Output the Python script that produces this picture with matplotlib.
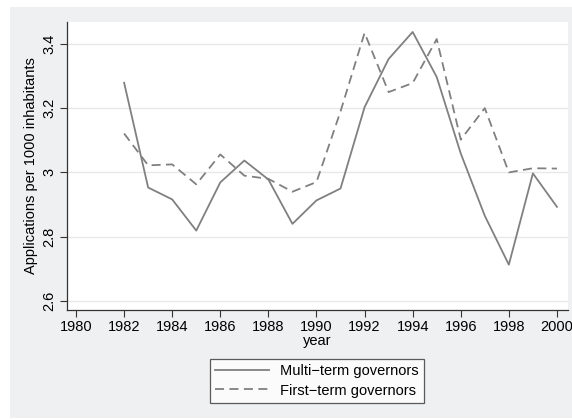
import matplotlib.pyplot as plt
from matplotlib.patches import Rectangle

# Valeurs
years = list(range(1982, 2001))
multi_term = [3.279, 2.953, 2.916, 2.819, 2.969, 3.037, 2.978, 2.840, 2.913, 2.950,
              3.203, 3.353, 3.437, 3.297, 3.059, 2.865, 2.713, 2.997, 2.893]
first_term = [3.121, 3.022, 3.025, 2.963, 3.056, 2.990, 2.980, 2.940, 2.970, 3.190,
              3.434, 3.250, 3.278, 3.415, 3.102, 3.200, 3.000, 3.013, 3.012]
x_ticks = list(range(1980, 2001, 2))
y_ticks = [2.6, 2.8, 3.0, 3.2, 3.4]
y_labels = ["2.6", "2.8", "3", "3.2", "3.4"]

plt.rcParams["font.family"] = ["Liberation Sans", "DejaVu Sans"]
fs = 10.5

W, H = 572, 419
fig = plt.figure(figsize=(W / 100, H / 100), dpi=100)
fig.patch.set_facecolor("white")
fig.patches.append(Rectangle((10 / W, 1 - 418 / H), (W - 10) / W, (418 - 7) / H,
                             transform=fig.transFigure, facecolor="#eff0f2",
                             edgecolor="none", zorder=-10))

ax = fig.add_axes([67 / W, 1 - 310 / H, (568 - 67) / W, (310 - 22) / H])
ax.set_zorder(1)
ax.set_facecolor("white")

line_color = "#808080"
ax.plot(years, multi_term, color=line_color, lw=1.3, label="Multi\u2212term governors")
ax.plot(years, first_term, color=line_color, lw=1.3, ls=(0, (5, 3)),
        label="First\u2212term governors")

ax.set_xlim(1979.625, 2000.46)
ax.set_ylim(2.572, 3.468)
ax.set_xticks(x_ticks)
ax.set_yticks(y_ticks)
ax.set_yticklabels(y_labels, rotation=90, va="center")
ax.tick_params(axis="both", labelsize=fs, length=5, width=0.8, color="#333333", pad=2.5)
ax.yaxis.grid(True, color="#e8e8e8", lw=1)
ax.set_axisbelow(True)

for side in ["top", "right"]:
    ax.spines[side].set_visible(False)
for side in ["left", "bottom"]:
    ax.spines[side].set_color("#333333")
    ax.spines[side].set_linewidth(0.9)

ax.set_xlabel("year", fontsize=fs, labelpad=0)
ax.set_ylabel("Applications per 1000 inhabitants", fontsize=fs, labelpad=3)

leg = fig.legend(loc="center", bbox_to_anchor=(317 / W, 1 - 381 / H), ncol=1,
                 fontsize=fs, frameon=True, fancybox=False, handlelength=3.7,
                 handletextpad=0.8, borderpad=0.35, labelspacing=0.35)
leg.get_frame().set_edgecolor("#333333")
leg.get_frame().set_linewidth(0.9)

fig.savefig("out.png", dpi=100, facecolor=fig.get_facecolor())
